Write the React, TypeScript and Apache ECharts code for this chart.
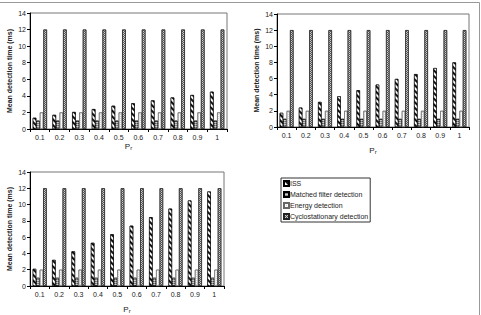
import React, { useEffect, useRef } from "react";
import * as echarts from "echarts";

const categories = ["0.1", "0.2", "0.3", "0.4", "0.5", "0.6", "0.7", "0.8", "0.9", "1"];
const seriesNames = ["ISS", "Matched filter detection", "Energy detection", "Cyclostationary detection"];
const iss1 = [1.35, 1.7, 2.05, 2.4, 2.8, 3.1, 3.45, 3.8, 4.1, 4.5];
const iss2 = [1.75, 2.4, 3.1, 3.8, 4.55, 5.25, 5.95, 6.55, 7.3, 8.0];
const iss3 = [2.1, 3.2, 4.25, 5.3, 6.35, 7.4, 8.45, 9.5, 10.5, 11.6];
const matched = [1, 1, 1, 1, 1, 1, 1, 1, 1, 1];
const energy = [2, 2, 2, 2, 2, 2, 2, 2, 2, 2];
const cyclo = [12, 12, 12, 12, 12, 12, 12, 12, 12, 12];
const yTicks = { min: 0, max: 14, interval: 2 };

const FONT = "Liberation Sans, Arial, sans-serif";

const styles = [
  {
    color: "#111",
    borderColor: "#000",
    borderWidth: 0.6,
    decal: { symbol: "rect", dashArrayX: [1, 0], dashArrayY: [1.5, 2], rotation: Math.PI / 4, color: "#fff", symbolSize: 1 },
  },
  {
    color: "#8a8a8a",
    borderColor: "#000",
    borderWidth: 0.6,
    decal: { symbol: "rect", dashArrayX: [1, 0], dashArrayY: [1, 1], rotation: 0, color: "#d0d0d0", symbolSize: 1 },
  },
  {
    color: "#fafafa",
    borderColor: "#666",
    borderWidth: 0.6,
    decal: { symbol: "rect", dashArrayX: [1, 1], dashArrayY: [1, 1], rotation: 0, color: "#d8d8d8", symbolSize: 1 },
  },
  {
    color: "#d0d0d0",
    borderColor: "#222",
    borderWidth: 0.6,
    decal: { symbol: "rect", dashArrayX: [[1, 1], [0, 1, 1, 0]], dashArrayY: [1, 0], rotation: 0, color: "#555", symbolSize: 1 },
  },
];

export default function App() {
  const ref = useRef<HTMLDivElement>(null);
  useEffect(() => {
    if (!ref.current) return;
    const chart = echarts.init(ref.current, undefined, { renderer: "svg" });
    const grids = [
      { left: 30, top: 13, width: 197, height: 116 },
      { left: 277, top: 14, width: 192, height: 113 },
      { left: 30, top: 172, width: 194, height: 114 },
    ];
    const issSets = [iss1, iss2, iss3];
    const xNameGap = [12, 18, 18];
    const series: any[] = [];
    grids.forEach((g, gi) => {
      const sets = [issSets[gi], matched, energy, cyclo];
      sets.forEach((d, si) => {
        series.push({
          type: "bar",
          name: seriesNames[si],
          xAxisIndex: gi,
          yAxisIndex: gi,
          data: d,
          barGap: "0%",
          barCategoryGap: "28%",
          itemStyle: styles[si],
        });
      });
    });
    chart.setOption({
      animation: false,
      textStyle: { fontFamily: FONT },
      grid: grids.map((g) => ({ ...g, show: true, borderColor: "#777", borderWidth: 1, backgroundColor: "transparent" })),
      xAxis: grids.map((g, gi) => ({
        type: "category",
        gridIndex: gi,
        data: categories,
        name: "P{s|r}",
        nameLocation: "middle",
        nameGap: xNameGap[gi],
        nameTextStyle: { fontSize: 8, color: "#222", rich: { s: { fontSize: 6, verticalAlign: "bottom", padding: [4, 0, 0, 0] } } },
        axisLine: { lineStyle: { color: "#000", width: 1 } },
        axisTick: { show: true, length: 3, lineStyle: { color: "#000" } },
        axisLabel: { fontSize: 7, color: "#222", margin: 5 },
      })),
      yAxis: grids.map((g, gi) => ({
        type: "value",
        gridIndex: gi,
        ...yTicks,
        name: "Mean detection time (ms)",
        nameLocation: "middle",
        nameGap: 17,
        nameTextStyle: { fontSize: 7, fontWeight: "bold", color: "#222" },
        axisLine: { show: true, lineStyle: { color: "#000", width: 1 } },
        axisTick: { show: true, length: 3, lineStyle: { color: "#000" } },
        splitLine: { show: false },
        axisLabel: { fontSize: 7, color: "#222", margin: 4 },
      })),
      legend: {
        data: seriesNames,
        left: 281,
        top: 178,
        orient: "vertical",
        itemWidth: 5,
        itemHeight: 5,
        itemGap: 4,
        icon: "rect",
        padding: [2, 2, 2, 2],
        borderColor: "#333",
        borderWidth: 1,
        width: 82,
        textStyle: { fontSize: 7, color: "#222", padding: [0, 0, 0, -4] },
      },
      graphic: [
        { type: "line", shape: { x1: 0, y1: 2.5, x2: 479.5, y2: 2.5 }, style: { stroke: "#999", lineWidth: 1 } },
        { type: "line", shape: { x1: 479.5, y1: 2.5, x2: 479.5, y2: 315 }, style: { stroke: "#999", lineWidth: 1 } },
      ],
      series,
    });
    return () => chart.dispose();
  }, []);
  return <div ref={ref} style={{ position: "fixed", left: 0, top: 0, width: 481, height: 315, background: "#fff" }} />;
}
